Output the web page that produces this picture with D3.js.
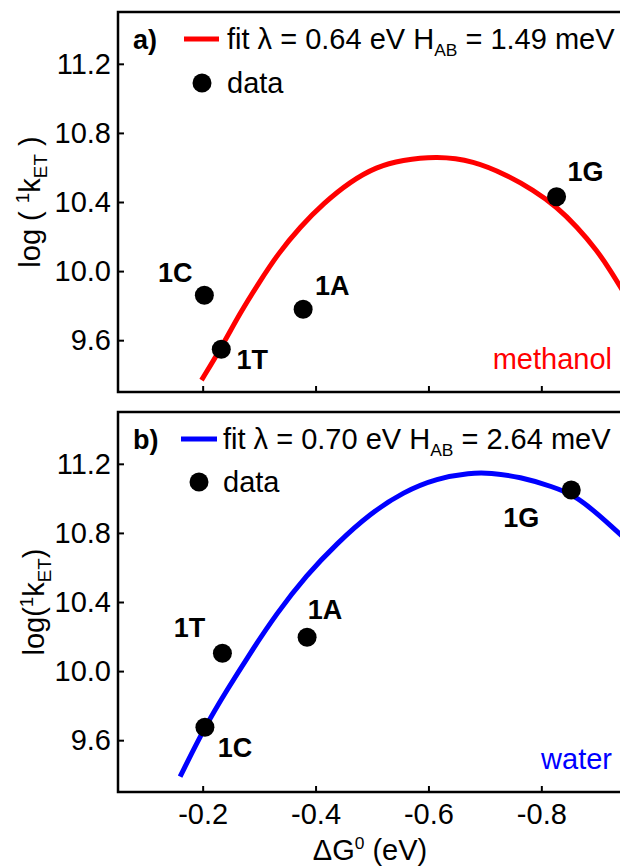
<!DOCTYPE html>
<html>
<head>
<meta charset="utf-8">
<script src="https://cdn.jsdelivr.net/npm/d3@7"></script>
<style>
  body { margin: 0; background: #fff; }
  svg text { font-family: "Liberation Sans", Arial, sans-serif; }
</style>
</head>
<body>
<div id="chart"></div>
<script>
// ---------------------------------------------------------------
// data
// ---------------------------------------------------------------
const compounds = ['1C', '1T', '1A', '1G'];

const methanolDG = [-0.203, -0.233, -0.378, -0.827];
const methanolLogK = [9.86, 9.547, 9.779, 10.43];
const waterDG = [-0.204, -0.235, -0.385, -0.853];
const waterLogK = [9.675, 10.103, 10.196, 11.048];

// fit curves
const methanolFitDG = [-0.198, -0.234, -0.266, -0.299, -0.334, -0.373, -0.414, -0.461,
  -0.508, -0.553, -0.615, -0.680, -0.739, -0.786, -0.827, -0.863, -0.898, -0.922, -0.950];
const methanolFitLogK = [9.369, 9.562, 9.756, 9.929, 10.103, 10.257, 10.392, 10.517,
  10.604, 10.643, 10.666, 10.639, 10.556, 10.469, 10.373, 10.257, 10.122, 10.006, 9.856];
const waterFitDG = [-0.160, -0.204, -0.243, -0.284, -0.331, -0.384, -0.438, -0.497,
  -0.556, -0.615, -0.674, -0.709, -0.762, -0.821, -0.857, -0.892, -0.925, -0.950];
const waterFitLogK = [9.389, 9.678, 9.890, 10.103, 10.334, 10.556, 10.740, 10.913,
  11.038, 11.116, 11.148, 11.148, 11.125, 11.067, 11.019, 10.932, 10.836, 10.761];

const xTicks = [-0.2, -0.4, -0.6, -0.8];
const yTicks = [9.6, 10.0, 10.4, 10.8, 11.2];

// ---------------------------------------------------------------
// layout
// ---------------------------------------------------------------
const width = 620, height = 866;
const fontSize = 29;
const labelSize = 27;
const plotLeft = 118, plotRight = 626;

const svg = d3.select('#chart').append('svg')
  .attr('width', width)
  .attr('height', height);

svg.append('rect').attr('width', width).attr('height', height).attr('fill', '#fff');

const x = d3.scaleLinear().domain([-0.05, -0.95]).range([plotLeft, plotRight]);

const panels = [
  {
    top: 12, bottom: 392, tag: 'a)', color: '#ff0000',
    fit: 'fit \u03bb = 0.64 eV H', fitEnd: ' = 1.49 meV', solvent: 'methanol',
    dg: methanolDG, logk: methanolLogK, fitDG: methanolFitDG, fitLogK: methanolFitLogK,
    labelOffsets: [[-29, -22], [31, 11], [29, -23], [29, -25]],
    ylab: 'spaced', xlabels: false,
    legLine: [184, 219], legText: 227, legDot: [202, 83]
  },
  {
    top: 412, bottom: 792, tag: 'b)', color: '#0000ff',
    fit: 'fit \u03bb = 0.70 eV H', fitEnd: ' = 2.64 meV', solvent: 'water',
    dg: waterDG, logk: waterLogK, fitDG: waterFitDG, fitLogK: waterFitLogK,
    labelOffsets: [[30, 21], [-33, -25], [18, -27], [-50, 28]],
    ylab: 'tight', xlabels: true,
    legLine: [181, 217], legText: 223, legDot: [199, 482]
  }
];

panels.forEach(draw_panel);

function draw_panel(p) {
  const y = d3.scaleLinear().domain([9.3, 11.5]).range([p.bottom, p.top]);
  const g = svg.append('g');

  // curve
  const pts = p.fitDG.map((d, i) => [d, p.fitLogK[i]]);
  g.append('path')
    .datum(pts)
    .attr('fill', 'none')
    .attr('stroke', p.color)
    .attr('stroke-width', 5)
    .attr('d', d3.line().x(d => x(d[0])).y(d => y(d[1])).curve(d3.curveBasis));

  // axes
  const yAxis = g.append('g')
    .attr('transform', `translate(${plotLeft},0)`)
    .call(d3.axisLeft(y).tickValues(yTicks).tickSizeInner(-6).tickSizeOuter(0)
      .tickPadding(7).tickFormat(d => d.toFixed(1)));
  const xAxis = g.append('g')
    .attr('transform', `translate(0,${p.bottom})`)
    .call(d3.axisBottom(x).tickValues(xTicks).tickSizeInner(-6).tickSizeOuter(0)
      .tickPadding(11).tickFormat(d => p.xlabels ? d.toFixed(1) : ''));
  [yAxis, xAxis].forEach(a => {
    a.select('.domain').remove();
    a.selectAll('.tick line').attr('stroke', '#000').attr('stroke-width', 2);
    a.selectAll('.tick text').attr('font-size', fontSize).attr('fill', '#000')
      .style('font-family', '"Liberation Sans", Arial, sans-serif');
  });

  // frame
  g.append('rect')
    .attr('x', plotLeft).attr('y', p.top)
    .attr('width', plotRight - plotLeft).attr('height', p.bottom - p.top)
    .attr('fill', 'none').attr('stroke', '#000').attr('stroke-width', 2.5);

  // points
  const pd = p.dg.map((d, i) => ({dg: d, logk: p.logk[i], name: compounds[i], off: p.labelOffsets[i]}));
  g.selectAll('circle.pt').data(pd).enter().append('circle')
    .attr('class', 'pt')
    .attr('cx', d => x(d.dg)).attr('cy', d => y(d.logk)).attr('r', 9.5)
    .attr('fill', '#000');
  g.selectAll('text.pl').data(pd).enter().append('text')
    .attr('class', 'pl')
    .attr('x', d => x(d.dg) + d.off[0]).attr('y', d => y(d.logk) + d.off[1])
    .attr('text-anchor', 'middle').attr('dominant-baseline', 'central')
    .attr('font-size', labelSize).attr('font-weight', 'bold')
    .text(d => d.name);

  // legend
  const legY = p.top + 27;
  g.append('text').attr('x', 133).attr('y', legY + 10)
    .attr('font-size', labelSize).attr('font-weight', 'bold').text(p.tag);
  g.append('line')
    .attr('x1', p.legLine[0]).attr('x2', p.legLine[1])
    .attr('y1', legY).attr('y2', legY)
    .attr('stroke', p.color).attr('stroke-width', 5);
  const ft = g.append('text').attr('x', p.legText).attr('y', legY + 10)
    .attr('font-size', fontSize);
  ft.append('tspan').text(p.fit);
  ft.append('tspan').attr('font-size', fontSize * 0.6).attr('dy', 7).text('AB');
  ft.append('tspan').attr('dy', -7).text(p.fitEnd);

  g.append('circle').attr('cx', p.legDot[0]).attr('cy', p.legDot[1]).attr('r', 9.5).attr('fill', '#000');
  g.append('text').attr('x', p.legText).attr('y', p.legDot[1] + 10)
    .attr('font-size', fontSize).text('data');

  // solvent
  g.append('text').attr('x', 612).attr('y', p.bottom - 23)
    .attr('text-anchor', 'end').attr('font-size', fontSize)
    .attr('fill', p.color).text(p.solvent);

  // y title
  const cy = (p.top + p.bottom) / 2;
  const yt = g.append('text')
    .attr('transform', `translate(${p.ylab === 'spaced' ? 40 : 44},${cy}) rotate(-90)`)
    .attr('text-anchor', 'middle')
    .attr('font-size', fontSize);
  const sp = p.ylab === 'spaced' ? ' ' : '';
  yt.append('tspan').text('log' + (sp ? ' ( ' : '('));
  yt.append('tspan').attr('font-size', fontSize * 0.65).attr('dy', -11).text('1');
  yt.append('tspan').attr('dy', 11).text('k');
  yt.append('tspan').attr('font-size', fontSize * 0.65).attr('dy', 7).text('ET');
  yt.append('tspan').attr('dy', -7).text(sp + ')');
}

// x title
const xt = svg.append('text')
  .attr('x', 370).attr('y', 860)
  .attr('text-anchor', 'middle').attr('font-size', fontSize);
xt.append('tspan').text('\u0394G');
xt.append('tspan').attr('font-size', fontSize * 0.6).attr('dy', -11).text('0');
xt.append('tspan').attr('dy', 11).text(' (eV)');
</script>
</body>
</html>
